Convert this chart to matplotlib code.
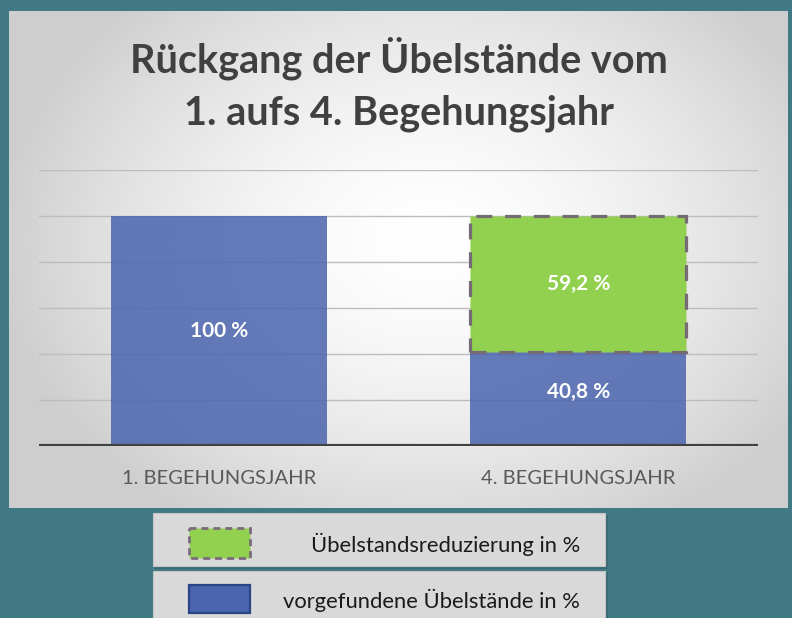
import numpy as np
import matplotlib
matplotlib.use("Agg")
import matplotlib.pyplot as plt
from matplotlib.patches import Rectangle

categories = ["1. BEGEHUNGSJAHR", "4. BEGEHUNGSJAHR"]
found_vals = [100.0, 40.8]
reduction_vals = [0.0, 59.2]
found_labels = ["100 %", "40,8 %"]
reduction_labels = ["", "59,2 %"]
title = "Rückgang der Übelstände vom\n1. aufs 4. Begehungsjahr"
legend_labels = ["Übelstandsreduzierung in %", "vorgefundene Übelstände in %"]

FONT = "Lato"
W, H = 792, 618
fig = plt.figure(figsize=(W / 100, H / 100), dpi=100)
fig.patch.set_facecolor("#417985")

def fx(x):
    return x / W
def fy(y):
    return 1 - y / H

# Chart panel with radial gradient
px0, py0, px1, py1 = 9, 11, 788, 508
pan = fig.add_axes([fx(px0), fy(py1), fx(px1 - px0), (py1 - py0) / H])
yy, xx = np.mgrid[0:py1 - py0, 0:px1 - px0]
cx, cy = 420, 230
d = np.sqrt(((xx - cx) / 430.0) ** 2 + ((yy - cy) / 330.0) ** 2)
d = np.clip(d, 0, 1)
val = 1.0 - 0.19 * d ** 1.6
img = np.dstack([val, val, val])
pan.imshow(img, aspect="auto", extent=[0, 1, 0, 1], origin="upper")
pan.set_xlim(0, 1); pan.set_ylim(0, 1)
pan.axis("off")

# Main axes
ax0, ay0, ax1, ay1 = 39, 446, 758, 170
ax = fig.add_axes([fx(ax0), fy(ay0), fx(ax1 - ax0), (ay0 - ay1) / H])
ax.set_facecolor("none")
ax.set_xlim(-0.5, 1.5)
ax.set_ylim(0, 120)
for yv in range(20, 121, 20):
    ax.axhline(yv, color="#bdbdbd", lw=1.0, zorder=1)
x = np.arange(len(categories))
ax.bar(x, found_vals, width=0.6, color="#4a64ae", alpha=0.85, zorder=2, linewidth=0)
ax.bar(x[1:], reduction_vals[1:], bottom=found_vals[1:], width=0.6, color="#92d050",
       edgecolor="#766a74", linewidth=2.3, linestyle=(0, (5, 4)), zorder=3)
ax.axhline(0, color="#404040", lw=3.0, zorder=4)

for i in range(len(categories)):
    ax.text(x[i], found_vals[i] / 2 + (3 if i == 1 else 0), found_labels[i], ha="center", va="center",
            color="white", fontweight="bold", fontsize=15, family=FONT, zorder=5)
    if reduction_labels[i]:
        ax.text(x[i], found_vals[i] + reduction_vals[i] / 2, reduction_labels[i], ha="center",
                va="center", color="white", fontweight="bold", fontsize=15, family=FONT, zorder=5)

ax.set_yticks([])
ax.set_xticks(x)
ax.set_xticklabels(categories, family=FONT, fontsize=14.5, color="#595959")
ax.tick_params(axis="x", length=0, pad=17)
for s in ax.spines.values():
    s.set_visible(False)

fig.text(0.5 * (px0 + px1) / W, fy(84), title, ha="center", va="center", fontsize=28.5,
         fontweight="bold", color="#404040", family=FONT, linespacing=1.5)

# Legend boxes
lg = fig.add_axes([0, 0, 1, 1])
lg.set_xlim(0, W); lg.set_ylim(H, 0)
lg.axis("off")
boxes = [(153, 513, 605, 566), (153, 571, 605, 625)]
for (bx0, by0, bx1, by1) in boxes:
    lg.add_patch(Rectangle((bx0 + 2, by0 + 2), bx1 - bx0, by1 - by0, color="#3a6b74", zorder=1))
    lg.add_patch(Rectangle((bx0, by0), bx1 - bx0, by1 - by0, facecolor="#d9d9d9",
                           edgecolor="#c4c4c4", lw=0.8, zorder=2))
lg.add_patch(Rectangle((189, 528), 61, 30, facecolor="#92d050", edgecolor="#7a6c7a",
                       lw=2.0, linestyle=(0, (2.5, 1.8)), zorder=3))
lg.add_patch(Rectangle((189, 585), 61, 28, facecolor="#4a64ae", edgecolor="#2a4585",
                       lw=1.6, zorder=3))
lg.text(580, 544, legend_labels[0], ha="right", va="center", fontsize=15.8, color="#1a1a1a",
        family=FONT, zorder=4)
lg.text(580, 600, legend_labels[1], ha="right", va="center", fontsize=15.8, color="#1a1a1a",
        family=FONT, zorder=4)

fig.savefig("out.png", dpi=100, facecolor=fig.get_facecolor())
